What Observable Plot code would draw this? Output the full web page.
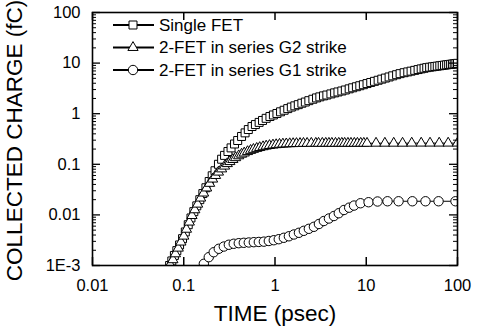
<!DOCTYPE html>
<html><head><meta charset="utf-8">
<script src="https://cdn.jsdelivr.net/npm/d3@7"></script>
<script src="https://cdn.jsdelivr.net/npm/@observablehq/plot@0.6"></script>
<style>
body{margin:0;background:#fff;}
#wrap{position:relative;width:489px;height:330px;font-family:"Liberation Sans",Arial,sans-serif;}
#legend{position:absolute;left:0;top:0;}
</style></head><body><div id="wrap"></div>
<script>
const seriesNames = ["Single FET", "2-FET in series G2 strike", "2-FET in series G1 strike"];
const seriesSymbols = ["square", "triangle", "circle"];

const timeSingle = [0.066,0.070,0.074,0.079,0.084,0.090,0.097,0.104,0.112,0.120,0.129,0.139,0.150,0.162,0.175,0.19,0.205,0.22,0.24,0.26,0.28,0.305,0.33,0.36,0.39,0.43,0.47,0.51,0.56,0.61,0.67,0.73,0.8,0.88,0.96,1.05,1.15,1.26,1.38,1.51,1.65,1.8,1.97,2.15,2.35,2.6,2.85,3.1,3.4,3.7,4.1,4.5,4.9,5.4,5.9,6.5,7.1,7.8,8.5,9.3,10.2,11.2,12.3,13.5,14.8,16.2,17.8,19.5,21.5,23.5,26,28.5,31,34,37,40,43,46,49.5,53,56.5,60,64,68,72,76,80,84,88,92,96,100];
const chargeSingle = [0.00081,0.0010,0.00123,0.00158,0.00197,0.00255,0.00339,0.0046,0.0064,0.0087,0.0116,0.0151,0.020,0.0264,0.0344,0.0457,0.0593,0.0746,0.1,0.126,0.150,0.179,0.211,0.252,0.295,0.355,0.418,0.486,0.558,0.61,0.673,0.735,0.81,0.88,0.944,1.01,1.09,1.17,1.26,1.35,1.43,1.51,1.61,1.70,1.81,1.93,2.05,2.15,2.25,2.34,2.46,2.58,2.69,2.81,2.94,3.10,3.25,3.41,3.57,3.74,3.94,4.14,4.36,4.58,4.82,5.06,5.32,5.60,5.90,6.19,6.46,6.70,6.93,7.19,7.45,7.69,7.91,8.13,8.30,8.44,8.58,8.71,8.85,8.99,9.12,9.25,9.36,9.47,9.58,9.69,9.79,9.89];

const timeG2 = [0.066,0.071,0.076,0.081,0.087,0.093,0.1,0.107,0.115,0.123,0.132,0.142,0.153,0.165,0.178,0.192,0.207,0.223,0.24,0.26,0.28,0.30,0.32,0.345,0.37,0.40,0.43,0.46,0.50,0.54,0.58,0.63,0.68,0.74,0.80,0.87,0.95,1.03,1.12,1.22,1.33,1.45,1.58,1.72,1.88,2.05,2.25,2.5,2.8,3.0,3.3,3.6,3.9,4.2,4.6,5.0,5.4,5.8,6.3,6.8,7.4,8.0,8.7,9.4,10.2,12.8,16,20,25,31.5,40,50,63,79,100];
const chargeG2 = [0.0008,0.00105,0.0013,0.0017,0.0022,0.0029,0.0038,0.0052,0.0072,0.0097,0.0126,0.0163,0.0215,0.027,0.034,0.042,0.051,0.060,0.070,0.081,0.092,0.103,0.113,0.124,0.135,0.147,0.158,0.167,0.178,0.188,0.197,0.206,0.214,0.222,0.229,0.235,0.240,0.244,0.248,0.251,0.253,0.255,0.256,0.257,0.258,0.259,0.259,0.26,0.26,0.26,0.26,0.26,0.26,0.26,0.26,0.26,0.26,0.26,0.26,0.26,0.26,0.26,0.26,0.26,0.26,0.261,0.261,0.261,0.261,0.262,0.262,0.262,0.262,0.262,0.262];

const timeG1 = [0.166,0.188,0.213,0.242,0.275,0.312,0.353,0.401,0.455,0.516,0.586,0.665,0.755,0.856,0.97,1.10,1.25,1.42,1.61,1.83,2.07,2.35,2.67,3.03,3.43,3.9,4.42,5.0,5.7,6.5,7.35,8.65,10.6,13.3,17.1,22.6,32,44.6,62,95];
const chargeG1 = [0.00108,0.00146,0.00183,0.00214,0.00237,0.00257,0.00269,0.00276,0.00281,0.00285,0.00289,0.00292,0.00296,0.00305,0.00316,0.00331,0.00353,0.00378,0.0041,0.00443,0.00485,0.00531,0.00582,0.00661,0.00757,0.00849,0.0095,0.0108,0.0125,0.0139,0.0153,0.0170,0.0178,0.0184,0.0186,0.0186,0.0186,0.0186,0.0186,0.0186];

const xTicks = [0.01, 0.1, 1, 10, 100];
const xTickLabels = ["0.01", "0.1", "1", "10", "100"];
const yTicks = [1e-3, 0.01, 0.1, 1, 10, 100];
const yTickLabels = ["1E-3", "0.01", "0.1", "1", "10", "100"];
const xTitle = "TIME (psec)";
const yTitle = "COLLECTED CHARGE (fC)";

const font = '"Liberation Sans", Arial, sans-serif';
const W = 489, H = 330, mT = 12, mR = 32, mB = 65, mL = 92;
const fw = W - mL - mR, fh = H - mT - mB;

const rows = (t, q, s) => t.map((d, i) => ({t: d, q: q[i], s}));
const series = [
  rows(timeSingle, chargeSingle, seriesNames[0]),
  rows(timeG2, chargeG2, seriesNames[1]),
  rows(timeG1, chargeG1, seriesNames[2])
];
const markerR = {square: 4.5, triangle: 3.8, circle: 4.7};
const yMinor = d3.range(-3, 2).flatMap(e => d3.range(2, 10).map(m => +(m * 10 ** e).toPrecision(3)));

const seriesMarks = series.flatMap((data, k) => [
  Plot.line(data, {x: "t", y: "q", stroke: "black", strokeWidth: 1, clip: true}),
  Plot.dot(data, {x: "t", y: "q", symbol: seriesSymbols[k], r: markerR[seriesSymbols[k]], fill: "white", stroke: "black", strokeWidth: 1, clip: true})
]);

const chart = Plot.plot({
  width: W, height: H, marginTop: mT, marginRight: mR, marginBottom: mB, marginLeft: mL,
  style: {fontFamily: font, fontSize: "16px", background: "white", color: "black"},
  x: {type: "log", domain: [0.01, 100]},
  y: {type: "log", domain: [1e-3, 100]},
  marks: [
    ...seriesMarks,
    Plot.axisX(xTicks, {tickSize: 0, tickPadding: 14, fontSize: 16.5, fill: "black", label: null, tickFormat: d => xTickLabels[xTicks.indexOf(d)]}),
    Plot.axisY(yTicks, {tickSize: 0, tickPadding: 12, fontSize: 16.5, fill: "black", label: null, tickFormat: d => yTickLabels[yTicks.indexOf(d)]}),
    Plot.tickX(xTicks, {x: d => d, insetTop: fh - 8, stroke: "black", strokeWidth: 1.5}),
    Plot.tickX(xTicks, {x: d => d, insetBottom: fh - 8, stroke: "black", strokeWidth: 1.5}),
    Plot.tickY(yTicks, {y: d => d, insetRight: fw - 8, stroke: "black", strokeWidth: 1.3}),
    Plot.tickY(yTicks, {y: d => d, insetLeft: fw - 8, stroke: "black", strokeWidth: 1.3}),
    Plot.tickY(yMinor, {y: d => d, insetRight: fw - 4, stroke: "black", strokeWidth: 1}),
    Plot.tickY(yMinor, {y: d => d, insetLeft: fw - 4, stroke: "black", strokeWidth: 1}),
    Plot.frame({stroke: "black", strokeWidth: 1.6}),
    Plot.text([xTitle], {text: d => d, frameAnchor: "bottom", lineAnchor: "middle", textAnchor: "middle", dy: 48, fontSize: 22.5, fill: "black"}),
    Plot.text([yTitle], {text: d => d, frameAnchor: "left", lineAnchor: "middle", textAnchor: "middle", rotate: -90, dx: -78, dy: 1.5, fontSize: 22.5, fill: "black"})
  ]
});
const wrap = document.getElementById("wrap");
wrap.appendChild(chart);

// legend
const lg = d3.select(wrap).append("svg").attr("id", "legend").attr("width", W).attr("height", H);
seriesNames.forEach((name, k) => {
  const cy = 25 + k * 22.5;
  const g = lg.append("g").attr("transform", `translate(0,${cy})`);
  g.append("line").attr("x1", 113).attr("x2", 154).attr("stroke", "black").attr("stroke-width", 2);
  const sym = {square: d3.symbolSquare, triangle: d3.symbolTriangle, circle: d3.symbolCircle}[seriesSymbols[k]];
  const r = markerR[seriesSymbols[k]];
  g.append("path").attr("transform", "translate(133,0)").attr("d", d3.symbol(sym, Math.PI * r * r)())
    .attr("fill", "white").attr("stroke", "black").attr("stroke-width", 1);
  g.append("text").attr("x", 159).attr("dy", "0.35em").attr("font-family", font).attr("font-size", 17).text(name);
});
</script></body></html>
